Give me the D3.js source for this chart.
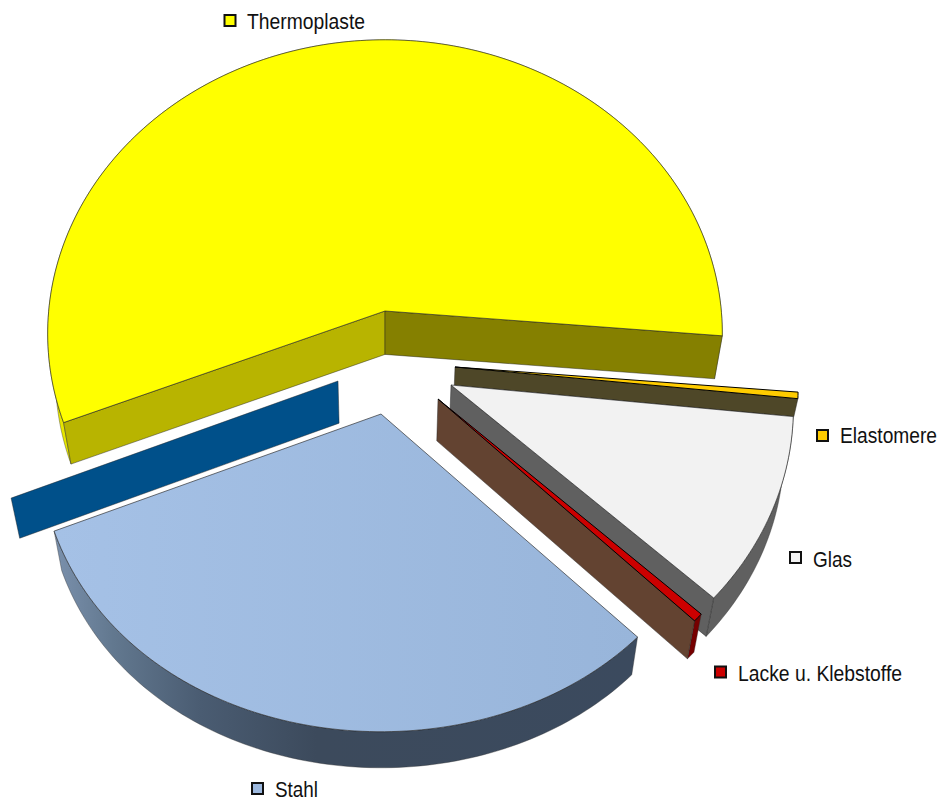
<!DOCTYPE html>
<html>
<head>
<meta charset="utf-8">
<script src="https://cdnjs.cloudflare.com/ajax/libs/d3/7.8.5/d3.min.js"></script>
<style>
    html, body { margin: 0; padding: 0; background: #fff; }
    text { font-family: "Liberation Sans", Arial, sans-serif; font-size: 19.2px; fill: #111; }
</style>
</head>
<body>
<div id="chart"></div>
<script>
var width = 941, height = 801;

// clockwise, starting at the left end of Thermoplaste
var categories = ["Thermoplaste", "Elastomere", "Glas", "Lacke u. Klebstoffe", "Stahl"];
var values = [57.4, 0.35, 10.3, 0.45, 31.5];
var colors = ["#ffff00", "#ffcc00", "#f2f2f2", "#cc0000", "url(#stahlTop)"];
var keyColors = ["#ffff00", "#ffcc00", "#f2f2f2", "#cc0000", "#9cb8de"];

// slice placement on screen, one row per category
var slices = {
    "Thermoplaste": {x: 385, y: 311, s: 0.995, sy: 1, ky: 0.0767, rim: "#e6e600", line: 0.8},
    "Elastomere": {x: 455, y: 367, s: 1.012, sy: 1.012, ky: 0.0767, rim: null, line: 1},
    "Glas": {x: 451, y: 385, s: 1.01, sy: 1.01, ky: 0.0767, rim: "#606060", line: 0.8},
    "Lacke u. Klebstoffe": {x: 438, y: 399, s: 1.012, sy: 1.02, ky: 0.0767, rim: "#760000", line: 1},
    "Stahl": {x: 381, y: 414, s: 1.012, sy: 1.075, ky: 0.012, rim: "url(#stahlRim)", line: 0.8}
};

// side walls: which cut edge, colour, offset from the top face, height factor
var walls = {
    "Thermoplaste": [
        {edge: "start", fill: "#b8b400", dx: 0, dy: 0, h: 1},
        {edge: "end", fill: "#858000", dx: 0, dy: 0, h: 1}
    ],
    "Elastomere": [{edge: "end", fill: "#4e4728", dx: 0, dy: 0, h: 0.43}],
    "Glas": [{edge: "end", fill: "#606060", dx: 0, dy: 0, h: 1}],
    "Lacke u. Klebstoffe": [{edge: "end", fill: "#634331", dx: 0, dy: 0, h: 1}],
    "Stahl": [{edge: "end", fill: "#00508a", dx: -43, dy: -33, h: 1}]
};

var legend = {
    "Thermoplaste": {kx: 224.5, ky: 15, tx: 247, ty: 28.5, tw: 118},
    "Elastomere": {kx: 817, ky: 430, tx: 840, ty: 443, tw: 97},
    "Glas": {kx: 790, ky: 552, tx: 813, ty: 566.5, tw: 39},
    "Lacke u. Klebstoffe": {kx: 715, ky: 666.5, tx: 738, ty: 680.5, tw: 164},
    "Stahl": {kx: 252, ky: 783, tx: 275, ty: 797, tw: 43}
};

var drawOrder = ["Stahl", "Thermoplaste", "Elastomere", "Glas", "Lacke u. Klebstoffe"];

var radiusX = 338, radiusY = 292, perspective = 0.0767;
var vanishX = 385, vanishY = 2800, depthX = 0.023, depthY = 0.01744;

var svg = d3.select("#chart").append("svg")
    .attr("width", width)
    .attr("height", height);

var defs = svg.append("defs");

function addGradient(id, x1, x2, stops) {
    var g = defs.append("linearGradient")
        .attr("id", id)
        .attr("gradientUnits", "userSpaceOnUse")
        .attr("x1", x1).attr("x2", x2).attr("y1", 0).attr("y2", 0);
    g.selectAll("stop").data(stops).enter().append("stop")
        .attr("offset", function (d) { return d[0]; })
        .attr("stop-color", function (d) { return d[1]; });
}

addGradient("stahlTop", 55, 636, [[0, "#a5c1e6"], [1, "#98b5da"]]);
addGradient("stahlRim", 55, 636, [[0, "#7a90ac"], [0.1, "#62788f"], [0.25, "#4a5c72"], [0.45, "#3c4a5c"], [1, "#3b4a5e"]]);

var pie = d3.pie()
    .sort(null)
    .startAngle(-111.8 * Math.PI / 180)
    .endAngle((360 - 111.8) * Math.PI / 180);

var arcs = pie(values);
var line = d3.line();

// angle is d3's: clockwise from 12 o'clock
function project(slice, angle) {
    var u = Math.sin(angle), v = Math.cos(angle);
    return [
        slice.x + slice.s * radiusX * u / (1 + perspective * v),
        slice.y - slice.sy * radiusY * v / (1 + slice.ky * v)
    ];
}

function drop(p, h) {
    return [
        p[0] + (vanishX - p[0]) * depthX * h,
        p[1] + (vanishY - p[1]) * depthY * h
    ];
}

function arcPoints(slice, a0, a1) {
    var n = Math.max(2, Math.ceil((a1 - a0) / 0.02));
    return d3.range(n + 1).map(function (i) {
        return project(slice, a0 + (a1 - a0) * i / n);
    });
}

function drawSlice(name) {
    var i = categories.indexOf(name);
    var slice = slices[name];
    var d = arcs[i];
    var pts = arcPoints(slice, d.startAngle, d.endAngle);
    var g = svg.append("g").attr("class", "slice");

    if (slice.rim) {
        var low = pts.map(function (p) { return drop(p, 1); }).reverse();
        g.append("path")
            .attr("d", line(pts.concat(low)) + "Z")
            .attr("fill", slice.rim)
            .attr("stroke", "#333")
            .attr("stroke-opacity", 0.5)
            .attr("stroke-width", 0.75);
    }

    walls[name].forEach(function (wall) {
        var angle = wall.edge == "start" ? d.startAngle : d.endAngle;
        var a = [slice.x + wall.dx, slice.y + wall.dy];
        var b = project(slice, angle);
        b = [b[0] + wall.dx, b[1] + wall.dy];
        g.append("path")
            .attr("d", line([a, b, drop(b, wall.h), drop(a, wall.h)]) + "Z")
            .attr("fill", wall.fill)
            .attr("stroke", "#222")
            .attr("stroke-opacity", 0.6)
            .attr("stroke-width", 0.75);
    });

    g.append("path")
        .attr("d", line([[slice.x, slice.y]].concat(pts)) + "Z")
        .attr("fill", colors[i])
        .attr("stroke", slice.line == 1 ? "#000" : "#222")
        .attr("stroke-opacity", slice.line == 1 ? 1 : 0.8)
        .attr("stroke-width", slice.line);
}

drawOrder.forEach(drawSlice);

var keys = svg.selectAll("g.key")
    .data(categories)
    .enter()
    .append("g")
    .attr("class", "key");

keys.append("rect")
    .attr("x", function (d) { return legend[d].kx; })
    .attr("y", function (d) { return legend[d].ky; })
    .attr("width", 11)
    .attr("height", 11)
    .attr("fill", function (d, i) { return keyColors[i]; })
    .attr("stroke", "#111")
    .attr("stroke-width", 2);

keys.append("text")
    .attr("transform", function (d) {
        return "translate(" + legend[d].tx + "," + legend[d].ty + ") scale(1,1.13)";
    })
    .attr("textLength", function (d) { return legend[d].tw; })
    .attr("lengthAdjust", "spacingAndGlyphs")
    .text(function (d) { return d; });
</script>
</body>
</html>
